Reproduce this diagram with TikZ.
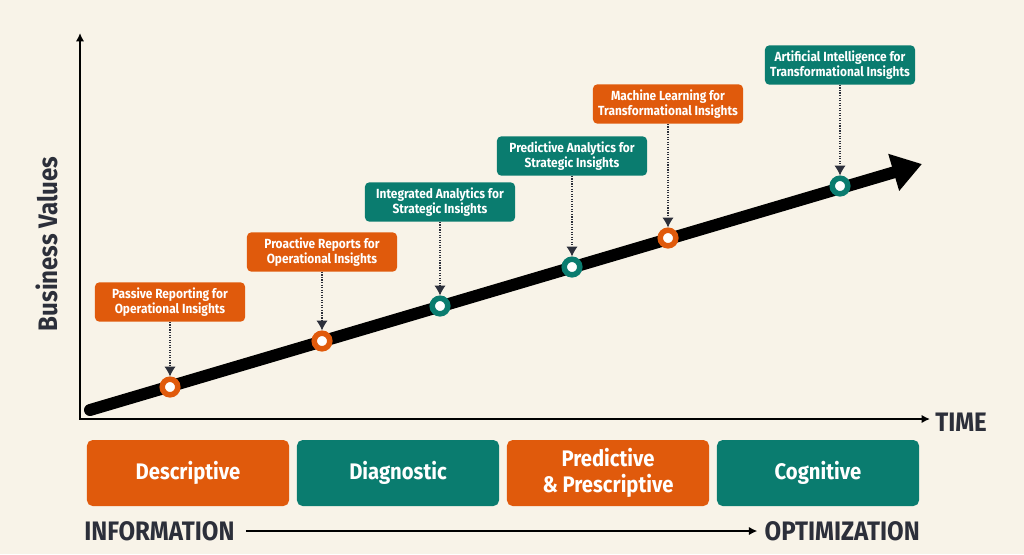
\documentclass[tikz,border=0pt]{standalone}
\usepackage{fontspec}
\setmainfont{Fira Sans}[FakeStretch=0.9]
\usepackage{tikz}
\usetikzlibrary{arrows.meta}

\definecolor{bgcream}{RGB}{248,243,232}
\definecolor{rustorange}{RGB}{224,90,12}
\definecolor{deepteal}{RGB}{10,124,111}
\definecolor{inkdark}{RGB}{44,47,58}

\begin{document}
\begin{tikzpicture}[x=0.025cm, y=-0.025cm,
        insight/.style={rectangle, rounded corners=3pt, text=white, align=center, font=\bfseries\fontsize{9.4}{11}\selectfont, minimum width=3.75cm, minimum height=0.98cm, inner sep=2pt},
        stage/.style={rectangle, rounded corners=4pt, text=white, align=center, font=\bfseries\fontsize{16}{18}\selectfont, minimum width=5.05cm, minimum height=1.65cm},
        milestone/.style={circle, line width=3.9pt, fill=white, minimum size=0.39cm, inner sep=0pt},
        pointer/.style={draw=inkdark, densely dotted, thick, -{Latex[length=7pt,width=8pt]}},
        axis/.style={draw=black, line width=2pt, {Latex[length=6pt,width=6pt]}-{Latex[length=6pt,width=6pt]}},
        trend/.style={draw=black, line width=8.5pt, line cap=round, -{Triangle[length=21pt,width=26pt]}},
        axislabel/.style={text=inkdark, font=\bfseries\fontsize{19}{21}\selectfont, inner sep=0pt}
    ]
        % Background
        \fill [bgcream] (0,0) rectangle (1024,554);

        % Axes
        \coordinate (origin) at (80,419);
        \coordinate (ytop) at (80,33);
        \coordinate (xend) at (930,419);
        \draw [axis] (ytop) -- (origin) -- (xend);
        \node [axislabel, anchor=west] (time) at (935,422) {TIME};
        \node [axislabel, rotate=90] (value) at (47,244) {Business Values};

        % Trend line
        \coordinate (trendstart) at (90,410);
        \coordinate (trendend) at (922,164);
        \draw [trend] (trendstart) -- (trendend);

        % Milestones on the trend
        \node [milestone, draw=rustorange] (m1) at (170,387) {};
        \node [milestone, draw=rustorange] (m2) at (322,341) {};
        \node [milestone, draw=deepteal] (m3) at (440,306) {};
        \node [milestone, draw=deepteal] (m4) at (572,267) {};
        \node [milestone, draw=rustorange] (m5) at (668,238) {};
        \node [milestone, draw=deepteal] (m6) at (840,186) {};

        % Insight labels
        \node [insight, fill=rustorange] (l1) at (170,302) {Passive Reporting for\\Operational Insights};
        \node [insight, fill=rustorange] (l2) at (322,252) {Proactive Reports for\\Operational Insights};
        \node [insight, fill=deepteal] (l3) at (440,202) {Integrated Analytics for\\Strategic Insights};
        \node [insight, fill=deepteal] (l4) at (572,156) {Predictive Analytics for\\Strategic Insights};
        \node [insight, fill=rustorange] (l5) at (668,104) {Machine Learning for\\Transformational Insights};
        \node [insight, fill=deepteal] (l6) at (840,65) {Artificial Intelligence for\\Transformational Insights};

        % Connections
        \path [pointer] (l1) -- (m1);
        \path [pointer] (l2) -- (m2);
        \path [pointer] (l3) -- (m3);
        \path [pointer] (l4) -- (m4);
        \path [pointer] (l5) -- (m5);
        \path [pointer] (l6) -- (m6);

        % Stages
        \node [stage, fill=rustorange] (descriptive) at (188,473) {Descriptive};
        \node [stage, fill=deepteal] (diagnostic) at (398,473) {Diagnostic};
        \node [stage, fill=rustorange] (predictive) at (608,473) {Predictive\\\& Prescriptive};
        \node [stage, fill=deepteal] (cognitive) at (818,473) {Cognitive};

        % Information to optimization
        \node [axislabel, anchor=west] (info) at (84,531) {INFORMATION};
        \node [axislabel, anchor=east] (optim) at (920,531) {OPTIMIZATION};
        \draw [draw=black, line width=2pt, -{Latex[length=6pt,width=6pt]}, shorten <=8pt, shorten >=5pt] (info) -- (optim);

    \end{tikzpicture}
\end{document}
